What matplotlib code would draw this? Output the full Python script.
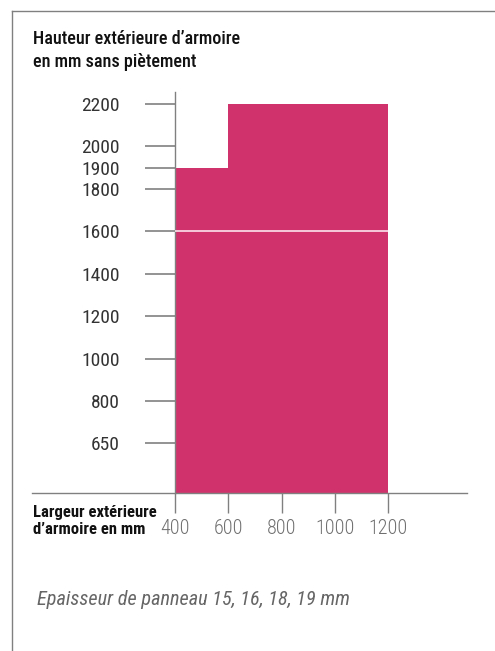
import numpy as np
import matplotlib.pyplot as plt
from matplotlib.lines import Line2D

# données
bar_left = [400, 600]          # largeur extérieure, début de chaque bloc (mm)
bar_width = [200, 600]         # largeur de chaque bloc (mm)
bar_height = [1900, 2200]      # hauteur extérieure max (mm)
split_height = 1600            # ligne blanche
x_ticks = [400, 600, 800, 1000, 1200]
y_ticks = [650, 800, 1000, 1200, 1400, 1600, 1800, 1900, 2000, 2200]

title = "Hauteur extérieure d’armoire\nen mm sans piètement"
xlabel = "Largeur extérieure\nd’armoire en mm"
note = "Epaisseur de panneau 15, 16, 18, 19 mm"

pink = '#d0336c'
grey = '#808080'
plt.rcParams['font.family'] = ['Roboto Condensed', 'DejaVu Sans']

# échelle de l'axe vertical : 650 est placé sur le pas de 200
knots_in = [0, 650, 800, 3000]
knots_out = [366, 600, 800, 3000]
fwd = lambda v: np.interp(v, knots_in, knots_out)
inv = lambda v: np.interp(v, knots_out, knots_in)

W, H = 495, 651
fig = plt.figure(figsize=(W / 100, H / 100), dpi=100)
ax = fig.add_axes([32 / W, (H - 493) / H, (467 - 32) / W, (493 - 92) / H])
ax.set_yscale('function', functions=(fwd, inv))

ax.bar(bar_left, bar_height, width=bar_width, align='edge', color=pink, linewidth=0, zorder=2)
ax.hlines(split_height, bar_left[0], bar_left[-1] + bar_width[-1], color='#fbe3ec', lw=1.2, zorder=3)

ax.set_xlim(-136, 1495)
ax.set_ylim(0, 2257)

for s in ['top', 'right']:
    ax.spines[s].set_visible(False)
ax.spines['left'].set_position(('data', 400))
ax.spines['left'].set_color(grey)
ax.spines['left'].set_linewidth(1.0)
ax.spines['bottom'].set_color(grey)
ax.spines['bottom'].set_linewidth(1.0)

ax.set_xticks(x_ticks)
ax.set_xticklabels([str(t) for t in x_ticks])
ax.set_yticks(y_ticks)
ax.set_yticklabels([str(t) for t in y_ticks])
ax.yaxis.set_minor_locator(plt.NullLocator())
ax.tick_params(axis='x', direction='out', length=14.4, width=1.0, color=grey,
               pad=4, labelsize=14.5, labelcolor='#707070')
ax.tick_params(axis='y', direction='out', length=21.6, width=1.2, color=grey,
               pad=18, labelsize=14, labelcolor='#333333')
for lab in ax.get_xticklabels():
    lab.set_fontweight('light')

fig.text(33 / W, 1 - 66.7 / H, title, ha='left', va='baseline', fontsize=13.1,
         fontweight='medium', color='#111111', linespacing=1.32)
fig.text(33 / W, 1 - 534 / H, xlabel, ha='left', va='baseline', fontsize=12,
         fontweight='bold', color='#111111', linespacing=1.15)
fig.text(37 / W, 1 - 605 / H, note, ha='left', va='baseline', fontsize=14.6,
         style='italic', color='#666666')

# cadre
fig.add_artist(Line2D([12 / W, 12 / W], [0, 1 - 10.5 / H], transform=fig.transFigure,
                      color=grey, lw=1.0))
fig.add_artist(Line2D([12 / W, 1], [1 - 10.5 / H, 1 - 10.5 / H], transform=fig.transFigure,
                      color=grey, lw=1.0))

fig.savefig('out.png', dpi=100)
